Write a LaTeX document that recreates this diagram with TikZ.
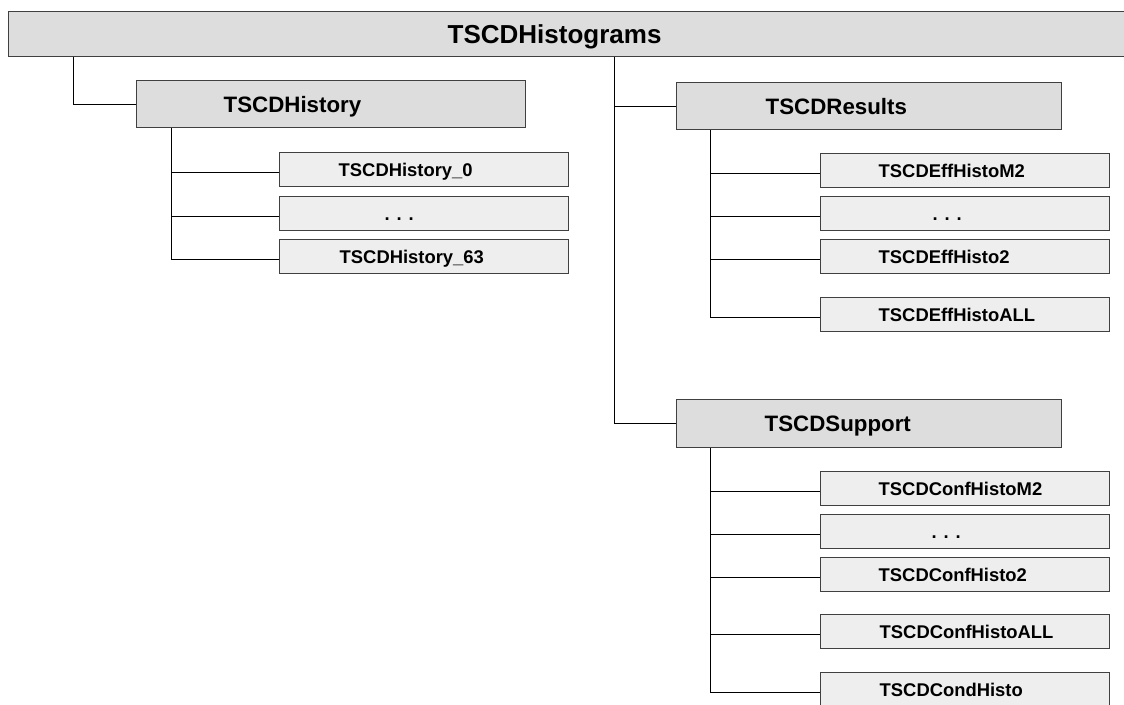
\documentclass[tikz,border=0pt]{standalone}
\usepackage{fontspec}
\setmainfont{Liberation Sans}
\newcommand\boxlabel[3]{\makebox[#1pt][l]{\hspace*{#2pt}#3}}
\definecolor{boxline}{HTML}{404040}
\definecolor{topfill}{HTML}{DDDDDD}
\definecolor{leaffill}{HTML}{EEEEEE}
\tikzset{
  basebox/.style={draw=boxline, line width=1.4pt, inner sep=0pt, anchor=north west,
    text depth=0pt},
  rootbox/.style={basebox, fill=topfill, minimum height=45pt,
    font=\fontsize{26}{30}\selectfont\bfseries, text height=18.6pt},
  groupbox/.style={basebox, fill=topfill, minimum height=47pt,
    font=\fontsize{22.3}{26}\selectfont\bfseries, text height=16pt},
  leafbox/.style={basebox, fill=leaffill, minimum height=34pt,
    font=\fontsize{18.4}{22}\selectfont\bfseries, text height=13.2pt},
  link/.style={draw=black, line width=1pt}
}
\begin{document}
\begin{tikzpicture}[x=1pt, y=-1pt]
\path[use as bounding box, clip] (0,0) rectangle (1124,704);
\fill[white] (0,0) rectangle (1124,704);

% root
\node[rootbox] (root) at (8,11) {\boxlabel{1130}{439}{TSCDHistograms}};

% groups
\node[groupbox] (hist) at (136,80) {\boxlabel{389}{87}{TSCDHistory}};
\node[groupbox] (res) at (676,82) {\boxlabel{385}{89}{TSCDResults}};
\node[groupbox, minimum height=48pt] (sup) at (676,399) {\boxlabel{385}{88}{TSCDSupport}};

% history leaves
\node[leafbox] (h0) at (279,152) {\boxlabel{289}{59}{TSCDHistory\_0}};
\node[leafbox] (hd) at (279,196) {\boxlabel{289}{105}{. . .}};
\node[leafbox] (h63) at (279,239) {\boxlabel{289}{60}{TSCDHistory\_63}};

% results leaves
\node[leafbox] (r1) at (820,153) {\boxlabel{289}{58}{TSCDEffHistoM2}};
\node[leafbox] (r2) at (820,196) {\boxlabel{289}{112}{. . .}};
\node[leafbox] (r3) at (820,239) {\boxlabel{289}{58}{TSCDEffHisto2}};
\node[leafbox] (r4) at (820,297) {\boxlabel{289}{58}{TSCDEffHistoALL}};

% support leaves
\node[leafbox] (s1) at (820,471) {\boxlabel{289}{58}{TSCDConfHistoM2}};
\node[leafbox] (s2) at (820,514) {\boxlabel{289}{111}{. . .}};
\node[leafbox] (s3) at (820,557) {\boxlabel{289}{58}{TSCDConfHisto2}};
\node[leafbox] (s4) at (820,614) {\boxlabel{289}{59}{TSCDConfHistoALL}};
\node[leafbox] (s5) at (820,672) {\boxlabel{289}{59}{TSCDCondHisto}};

% trunk positions
\coordinate (tk0) at (73,0);
\coordinate (tk1) at (614,0);
\coordinate (tk2) at (171,0);
\coordinate (tk3) at (710,0);

% attachment points, a little below each leaf's middle
\foreach \n in {h0,hd,h63,r1,r2,r3,r4,s1,s2,s3,s4,s5}
  \coordinate (\n-in) at ([yshift=-2.5pt]\n.west);

% root to groups
\draw[link] (root.south -| tk0) |- (hist.west);
\draw[link] (root.south -| tk1) |- (sup.west);
\draw[link] (tk1 |- res.west) -- (res.west);

% history branch
\draw[link] (hist.south -| tk2) |- (h63-in);
\foreach \n in {h0,hd}
  \draw[link] (tk2 |- \n-in) -- (\n-in);

% results branch
\draw[link] (res.south -| tk3) |- (r4-in);
\foreach \n in {r1,r2,r3}
  \draw[link] (tk3 |- \n-in) -- (\n-in);

% support branch
\draw[link] (sup.south -| tk3) |- (s5-in);
\foreach \n in {s1,s2,s3,s4}
  \draw[link] (tk3 |- \n-in) -- (\n-in);
\end{tikzpicture}
\end{document}
